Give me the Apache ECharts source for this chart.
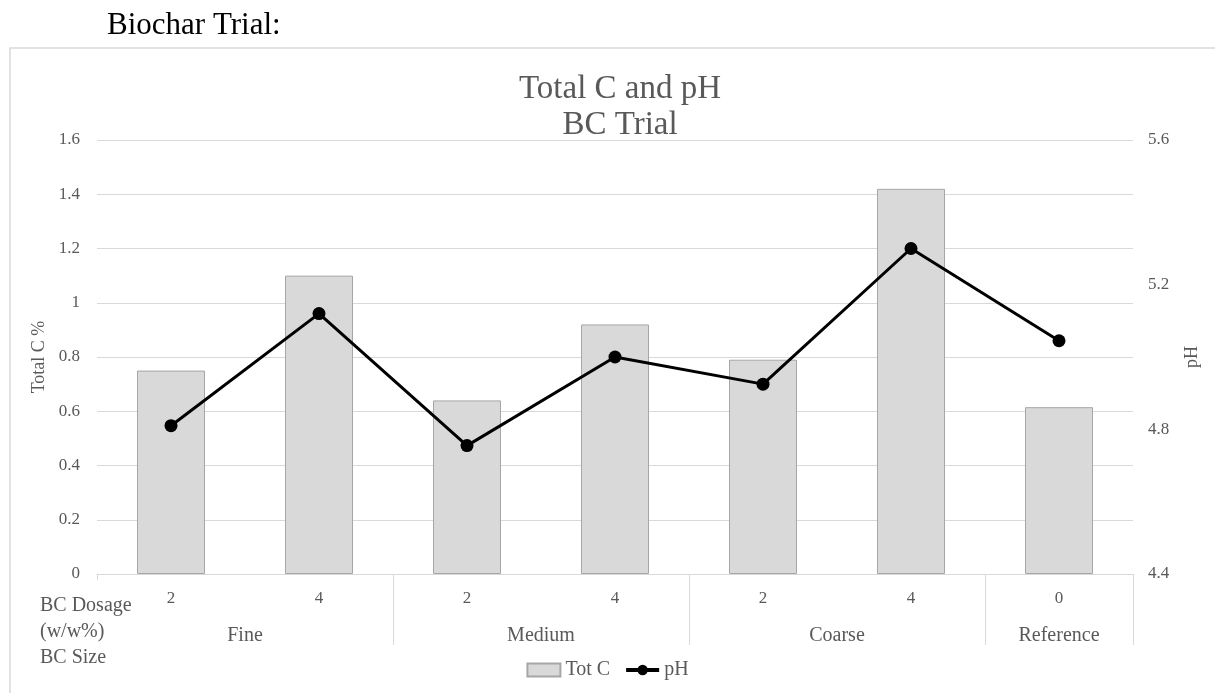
<!DOCTYPE html>
<html>
<head>
<meta charset="utf-8">
<script src="https://cdn.jsdelivr.net/npm/echarts@6/dist/echarts.min.js"></script>
<style>
html,body{margin:0;padding:0;background:#fff;}
#c{width:1215px;height:693px;}
</style>
</head>
<body>
<div id="c"></div>
<script>
const dosage = ['2','4','2','4','2','4','0'];
const groups = ['Fine','Medium','Coarse','Reference'];
const groupSizes = [2,2,2,1];
const totC = [0.75, 1.10, 0.64, 0.92, 0.79, 1.42, 0.615];
const pH = [4.81, 5.12, 4.755, 5.00, 4.925, 5.30, 5.045];

// group boundaries and centres in category units
const bounds = [];
const centers = [];
let acc = 0;
groupSizes.forEach(s => { centers.push(acc + s / 2); acc += s; bounds.push(acc); });

const FONT = 'Liberation Serif';
const GREY = '#595959';
const LINEC = '#d9d9d9';

const chart = echarts.init(document.getElementById('c'));
chart.setOption({
  animation: false,
  backgroundColor: '#fff',
  textStyle: { fontFamily: FONT },
  title: [
    { text: 'Biochar Trial:', left: 102, top: 5,
      textStyle: { fontFamily: FONT, fontSize: 31, fontWeight: 'normal', color: '#000' } },
    { text: 'Total C and pH\nBC Trial', left: 615, textAlign: 'center', top: 66,
      textStyle: { fontFamily: FONT, fontSize: 33, fontWeight: 'normal', color: GREY, lineHeight: 36 } },
    { text: 'BC Dosage\n(w/w%)\nBC Size', left: 35, top: 588,
      textStyle: { fontFamily: FONT, fontSize: 20, fontWeight: 'normal', color: GREY, lineHeight: 26 } }
  ],
  graphic: [
    { type: 'rect', shape: { x: 10, y: 48, width: 1220, height: 700 },
      style: { fill: 'none', stroke: LINEC, lineWidth: 1.5 }, silent: true }
  ],
  legend: {
    bottom: 8, left: 'center', itemWidth: 33, itemHeight: 13, itemGap: 14,
    textStyle: { fontFamily: FONT, fontSize: 20, color: GREY },
    data: [
      { name: 'Tot C', icon: 'rect' },
      { name: 'pH', lineStyle: { width: 4, color: '#000' } }
    ]
  },
  grid: { left: 97, right: 82, top: 140, bottom: 119 },
  xAxis: [
    {
      type: 'category', data: dosage, boundaryGap: true,
      axisLine: { lineStyle: { color: LINEC, width: 1 } },
      axisTick: { show: true, length: 6, interval: (i) => i === 0, lineStyle: { color: LINEC } },
      axisLabel: { fontFamily: FONT, fontSize: 17, color: GREY, margin: 16 }
    },
    {
      type: 'value', position: 'bottom', min: 0, max: dosage.length,
      axisLine: { show: false },
      splitLine: { show: false },
      axisTick: { show: true, customValues: bounds, length: 71, lineStyle: { color: LINEC } },
      axisLabel: {
        customValues: centers, fontFamily: FONT, fontSize: 20, color: GREY, margin: 52,
        formatter: (v) => { const i = centers.indexOf(v); return i >= 0 ? groups[i] : ''; }
      }
    }
  ],
  yAxis: [
    {
      type: 'value', min: 0, max: 1.6, interval: 0.2,
      name: 'Total C %', nameLocation: 'middle', nameGap: 47, nameRotate: 90,
      nameTextStyle: { fontFamily: FONT, fontSize: 18, color: GREY },
      axisLine: { show: false }, axisTick: { show: false },
      axisLabel: { fontFamily: FONT, fontSize: 17, color: GREY, margin: 17,
        formatter: (v) => String(Math.round(v * 10) / 10) },
      splitLine: { lineStyle: { color: LINEC, width: 1 } }
    },
    {
      type: 'value', min: 4.4, max: 5.6, interval: 0.4, position: 'right',
      name: 'pH', nameLocation: 'middle', nameGap: 50, nameRotate: 90,
      nameTextStyle: { fontFamily: FONT, fontSize: 18, color: GREY },
      axisLine: { show: false }, axisTick: { show: false },
      axisLabel: { fontFamily: FONT, fontSize: 17, color: GREY, margin: 15,
        formatter: (v) => v.toFixed(1) },
      splitLine: { show: false }
    }
  ],
  series: [
    {
      name: 'Tot C', type: 'bar', data: totC, xAxisIndex: 0, yAxisIndex: 0,
      barWidth: 68,
      itemStyle: { color: '#d9d9d9', borderColor: '#a6a6a6', borderWidth: 1 }
    },
    {
      name: 'pH', type: 'line', data: pH, xAxisIndex: 0, yAxisIndex: 1,
      symbol: 'circle', symbolSize: 13,
      lineStyle: { color: '#000', width: 3 },
      itemStyle: { color: '#000' }
    }
  ]
});
</script>
</body>
</html>
